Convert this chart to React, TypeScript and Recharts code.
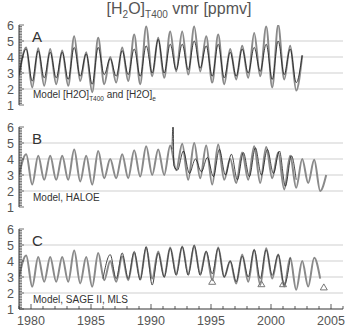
import React from "react";
import { LineChart, Line, XAxis, YAxis, ReferenceLine } from "recharts";

// panel A: [H2O]e (gray) and model [H2O]T400 (black); seasonal highs (~mid-year) and lows (~Jan)
const aEHigh = [4.6, 4.55, 4.5, 4.4, 5.3, 4.3, 5.2, 4.0, 4.6, 5.4, 5.9, 5.2, 5.6, 5.6, 5.9, 5.3, 5.4, 4.5, 4.7, 5.5, 5.9, 6.0, 4.7, 4.1];
const aELow = [2.1, 2.2, 2.3, 2.2, 2.5, 1.8, 2.3, 2.4, 2.5, 2.3, 2.8, 2.7, 3.1, 2.9, 3.1, 2.4, 2.3, 2.6, 2.7, 2.8, 2.1, 2.6, 1.9];
const aTHigh = [4.5, 4.4, 4.3, 4.3, 4.6, 4.2, 4.6, 3.9, 4.4, 4.5, 4.7, 5.1, 4.8, 4.8, 5.0, 4.7, 4.8, 4.3, 4.5, 4.6, 4.8, 5.0, 4.5, 4.1];
const aTLow = [2.5, 2.7, 2.7, 2.6, 2.8, 2.3, 2.9, 2.8, 2.9, 2.8, 3.0, 3.0, 3.2, 3.2, 3.3, 2.8, 2.7, 2.8, 3.0, 3.1, 2.6, 2.9, 2.4];

// panel B: model (gray) and HALOE (black)
const bModelHigh = [4.3, 4.2, 4.2, 4.2, 4.6, 4.2, 4.5, 4.0, 4.3, 4.55, 4.8, 4.6, 4.85, 4.95, 5.0, 4.85, 4.9, 4.0, 4.4, 4.8, 4.75, 4.4, 4.2, 4.0, 3.95, 3.0];
const bModelLow = [2.4, 2.7, 2.7, 2.7, 2.6, 2.4, 2.8, 2.8, 2.8, 2.9, 3.0, 3.0, 3.3, 2.7, 2.8, 2.4, 2.7, 2.5, 2.7, 2.5, 2.8, 2.1, 2.2, 2.5, 2.0];
const haloeT = [1991.75, 1991.85, 1991.9, 1992.2, 1992.7, 1993.2, 1993.7, 1994.2, 1994.7, 1995.2, 1995.7, 1996.2, 1996.7, 1997.2, 1997.7, 1998.2, 1998.7, 1999.2, 1999.7, 2000.2, 2000.7, 2001.2, 2001.7, 2002.1];
const haloeV = [4.6, 6.4, 3.6, 3.3, 4.5, 3.1, 4.0, 3.2, 4.1, 2.9, 4.6, 3.0, 4.3, 2.7, 4.4, 2.9, 4.7, 3.0, 4.6, 3.1, 4.5, 2.3, 4.2, 2.7];

// panel C: model (gray), SAGE II (dark), MLS (triangles)
const cModelHigh = [4.35, 4.25, 4.25, 4.25, 4.65, 4.25, 4.5, 4.0, 4.3, 4.5, 4.8, 4.6, 4.85, 4.9, 4.9, 4.6, 4.85, 4.0, 4.4, 4.7, 4.8, 4.4, 4.2, 4.0, 4.2];
const cModelLow = [2.4, 2.7, 2.7, 2.7, 2.6, 2.4, 2.8, 2.7, 2.8, 2.9, 2.9, 3.0, 3.2, 3.2, 3.2, 2.8, 3.0, 2.6, 2.7, 2.5, 2.9, 2.4, 2.2, 2.4, 2.9];
const sageHigh = [4.4, 4.5, 4.6, 4.9, 4.5, 4.8, 4.9, 5.0, 4.6, 4.8, 4.0, 4.3, 4.7, 4.7, 4.4, 4.2];
const sageLow = [2.9, 2.9, 2.8, 2.5, 3.0, 3.1, 3.1, 3.1, 3.2, 3.0, 2.7, 3.0, 2.9, 3.1, 2.5];
const mlsT = [1995.1, 1999.2, 2001.0, 2004.4];
const mlsV = [2.7, 2.55, 2.55, 2.35];

const gridValues = [2, 3, 4, 5];

type Pt = { t: number; v: number };

function seasonal(t0: number, v0: number, hiYear: number, highs: number[], loYear: number, lows: number[]): Pt[] {
  const pts: Pt[] = [{ t: t0, v: v0 }];
  highs.forEach((v, i) => pts.push({ t: hiYear + i + 0.6, v }));
  lows.forEach((v, i) => pts.push({ t: loYear + i + 0.1, v }));
  return pts.sort((a, b) => a.t - b.t);
}

const W = 345;
const FL = 19;
const FR = 343;
const FT = 8;
const PH = 80;
const FB = FT + PH;
const FONT = "Liberation Sans, Arial, sans-serif";
const INK = "#333";

const yTicks: number[] = [];
for (let i = 0; i <= 50; i++) yTicks.push(Math.round((1 + i / 10) * 10) / 10);
const xTicks: number[] = [];
for (let y = 1979; y <= 2006; y++) xTicks.push(y);

const isMajor = (v: number) => Math.abs(v - Math.round(v)) < 1e-6;

const LeftTick = (p: any) => {
  const v = p.payload.value;
  const y = p.payload.coordinate ?? p.y;
  const major = isMajor(v);
  return (
    <g>
      <line x1={FL} x2={FL + (major ? 5 : 3)} y1={y} y2={y} stroke={INK} strokeWidth={0.7} />
      {major && (
        <text x={FL - 5} y={y + 4.5} textAnchor="end" fontSize={12.5} fontFamily={FONT} fill="#555">
          {v}
        </text>
      )}
    </g>
  );
};

const RightTick = (p: any) => {
  const v = p.payload.value;
  const y = p.payload.coordinate ?? p.y;
  const major = isMajor(v);
  return <line x1={FR} x2={FR - (major ? 6 : 4)} y1={y} y2={y} stroke={INK} strokeWidth={0.9} />;
};

const makeBottomTick = (labels: boolean) => (p: any) => {
  const v = p.payload.value;
  const x = p.payload.coordinate ?? p.x;
  const major = v % 5 === 0;
  return (
    <g>
      <line x1={x} x2={x} y1={FB} y2={FB - (major ? 5 : 3)} stroke={INK} strokeWidth={0.8} />
      {labels && major && (
        <text x={x} y={FB + 15.5} textAnchor="middle" fontSize={12.5} fontFamily={FONT} fill="#555">
          {v}
        </text>
      )}
    </g>
  );
};

const TopTick = (p: any) => {
  const v = p.payload.value;
  const x = p.payload.coordinate ?? p.x;
  const major = v % 5 === 0;
  return <line x1={x} x2={x} y1={FT} y2={FT + (major ? 5 : 3)} stroke={INK} strokeWidth={0.8} />;
};

const Triangle = (p: any) => {
  const { cx, cy } = p;
  if (cx == null || cy == null) return null;
  return (
    <polygon
      points={`${cx},${cy - 3.5} ${cx - 3.5},${cy + 2.5} ${cx + 3.5},${cy + 2.5}`}
      fill="none"
      stroke="#777"
      strokeWidth={1}
    />
  );
};

type Series = { data: Pt[]; stroke: string; width: number };

function Panel(props: { top: number; series: Series[]; labels?: boolean; mls?: Pt[] }) {
  const xh = props.labels ? 20 : 0;
  const mb = props.labels ? 0 : 8;
  const h = FT + PH + xh + mb;
  return (
    <div style={{ position: "absolute", left: 0, top: props.top - FT }}>
      <LineChart width={W} height={h} margin={{ top: FT, right: W - FR, bottom: mb, left: 0 }}>
        <XAxis
          xAxisId="b"
          dataKey="t"
          type="number"
          domain={[1979, 2006]}
          allowDataOverflow
          ticks={xTicks}
          interval={0}
          height={xh}
          tickLine={false}
          axisLine={{ stroke: INK }}
          tick={makeBottomTick(!!props.labels)}
        />
        <XAxis
          xAxisId="top"
          orientation="top"
          type="number"
          domain={[1979, 2006]}
          ticks={xTicks}
          interval={0}
          height={0}
          tickLine={false}
          axisLine={{ stroke: INK }}
          tick={TopTick}
        />
        <YAxis
          yAxisId="l"
          type="number"
          domain={[1, 6]}
          allowDataOverflow
          ticks={yTicks}
          interval={0}
          width={FL}
          tickLine={false}
          axisLine={{ stroke: INK }}
          tick={LeftTick}
        />
        <YAxis
          yAxisId="r"
          orientation="right"
          type="number"
          domain={[1, 6]}
          ticks={yTicks}
          interval={0}
          width={0}
          tickLine={false}
          axisLine={{ stroke: INK }}
          tick={RightTick}
        />
        {gridValues.map((g) => (
          <ReferenceLine key={g} y={g} xAxisId="b" yAxisId="l" stroke="#cfcfcf" strokeWidth={1} />
        ))}
        {props.series.map((s, i) => (
          <Line
            key={i}
            data={s.data}
            dataKey="v"
            xAxisId="b"
            yAxisId="l"
            type="monotone"
            stroke={s.stroke}
            strokeWidth={s.width}
            strokeLinejoin="round"
            dot={false}
            isAnimationActive={false}
          />
        ))}
        {props.mls && (
          <Line
            data={props.mls}
            dataKey="v"
            xAxisId="b"
            yAxisId="l"
            stroke="none"
            dot={<Triangle />}
            isAnimationActive={false}
          />
        )}
      </LineChart>
    </div>
  );
}

const txt: React.CSSProperties = { position: "absolute", fontFamily: FONT, color: "#333", whiteSpace: "nowrap" };

export default function App() {
  const aE = seasonal(1979.0, 2.8, 1979, aEHigh, 1980, aELow);
  const aT = seasonal(1979.0, 2.9, 1979, aTHigh, 1980, aTLow);
  const bModel = seasonal(1979.0, 3.0, 1979, bModelHigh, 1980, bModelLow);
  const haloe = haloeT.map((t, i) => ({ t, v: haloeV[i] }));
  const cModel = seasonal(1979.0, 3.0, 1979, cModelHigh, 1980, cModelLow);
  const sage = seasonal(1986.0, 2.9, 1986, sageHigh, 1987, sageLow);
  const mls = mlsT.map((t, i) => ({ t, v: mlsV[i] }));
  const gray = "#8a8a8a";

  return (
    <div style={{ position: "absolute", left: 0, top: 0, width: 345, height: 326, background: "#fff", overflow: "hidden" }}>
      <div style={{ ...txt, left: 0, width: 358, top: 0, textAlign: "center", fontSize: 16, color: "#555" }}>
        [H<sub style={{ fontSize: 10 }}>2</sub>O]<sub style={{ fontSize: 10 }}>T400</sub> vmr [ppmv]
      </div>
      <Panel
        top={25}
        series={[
          { data: aE, stroke: gray, width: 2 },
          { data: aT, stroke: "#111", width: 0.75 },
        ]}
      />
      <Panel
        top={127}
        series={[
          { data: bModel, stroke: gray, width: 2 },
          { data: haloe, stroke: "#111", width: 0.75 },
        ]}
      />
      <Panel
        top={229}
        labels
        series={[
          { data: cModel, stroke: gray, width: 2 },
          { data: sage, stroke: "#444", width: 1 },
        ]}
        mls={mls}
      />
      <div style={{ ...txt, left: 32, top: 28, fontSize: 15 }}>A</div>
      <div style={{ ...txt, left: 32, top: 130, fontSize: 15 }}>B</div>
      <div style={{ ...txt, left: 32, top: 232, fontSize: 15 }}>C</div>
      <div style={{ ...txt, left: 33, top: 89, fontSize: 10 }}>
        Model [H2O]<sub style={{ fontSize: 6.5 }}>T400</sub> and [H2O]<sub style={{ fontSize: 6.5 }}>e</sub>
      </div>
      <div style={{ ...txt, left: 33, top: 192, fontSize: 10 }}>Model, HALOE</div>
      <div style={{ ...txt, left: 33, top: 294, fontSize: 10 }}>Model, SAGE II, MLS</div>
    </div>
  );
}
